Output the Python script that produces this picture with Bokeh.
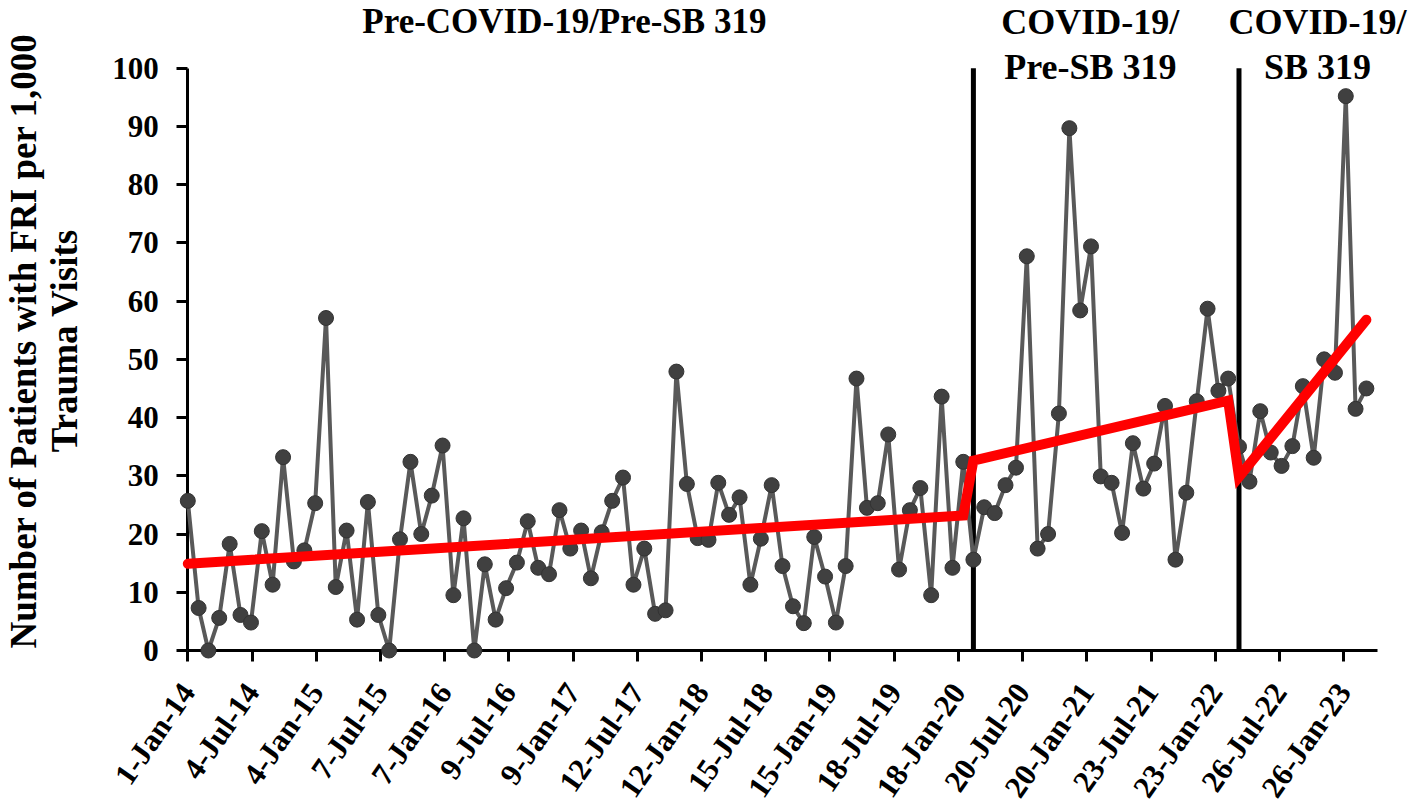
import math
import pandas as pd
from bokeh.plotting import figure
from bokeh.models import Range1d, FixedTicker, ColumnDataSource
from bokeh.core.properties import value
from bokeh.embed import file_html
from bokeh.resources import INLINE

# ---------------- data ----------------
first_month = "2014-01-01"
# monthly rate of patients with FRI per 1,000 trauma visits
pre_covid_pre_sb = [25.7, 7.3, 0.0, 5.6, 18.3, 6.1, 4.8, 20.5, 11.3, 33.2, 15.3, 17.2,
                    25.3, 57.1, 10.9, 20.6, 5.3, 25.5, 6.1, 0.0, 19.1, 32.4, 20.0, 26.6,
                    35.2, 9.5, 22.7, 0.0, 14.8, 5.3, 10.7, 15.1, 22.2, 14.2, 13.1, 24.1,
                    17.5, 20.6, 12.4, 20.3, 25.7, 29.7, 11.3, 17.5, 6.3, 6.9, 47.9, 28.6,
                    19.3, 19.0, 28.8, 23.3, 26.3, 11.3, 19.2, 28.4, 14.5, 7.6, 4.7, 19.5,
                    12.7, 4.8, 14.5, 46.7, 24.5, 25.3, 37.1, 13.9, 24.1, 27.9, 9.5, 43.6,
                    14.2, 32.4]
covid_pre_sb = [15.6, 24.6, 23.6, 28.4, 31.4, 67.7, 17.5, 20.0, 40.7, 89.7,
                58.4, 69.4, 29.9, 28.8, 20.2, 35.6, 27.8, 32.1, 42.0, 15.6, 27.1, 42.8,
                58.7, 44.6, 46.7]
covid_sb = [35.0, 29.0, 41.1, 34.0, 31.7, 35.1, 45.4, 33.1, 50.0,
            47.7, 95.2, 41.5, 45.0]

# segmented-regression fitted line (segment end points)
trend_dates = ["2014-01-01", "2020-02-01", "2020-03-01", "2022-03-01", "2022-04-01", "2023-04-01"]
trend_values = [14.9, 23.2, 32.6, 42.9, 29.8, 56.8]

# interruptions
break_dates = ["2020-03-01", "2022-04-01"]

x_tick_labels = ["1-Jan-14", "4-Jul-14", "4-Jan-15", "7-Jul-15", "7-Jan-16", "9-Jul-16",
                 "9-Jan-17", "12-Jul-17", "12-Jan-18", "15-Jul-18", "15-Jan-19", "18-Jul-19",
                 "18-Jan-20", "20-Jul-20", "20-Jan-21", "23-Jul-21", "23-Jan-22", "26-Jul-22",
                 "26-Jan-23"]
y_ticks = [0, 10, 20, 30, 40, 50, 60, 70, 80, 90, 100]

period_titles = ["Pre-COVID-19/Pre-SB 319", "COVID-19/", "Pre-SB 319", "COVID-19/", "SB 319"]
y_title = ["Number of Patients with FRI per 1,000", "Trauma Visits"]

# ---------------- helpers ----------------
EPOCH = pd.Timestamp("1970-01-01")
DAY_MS = 86400000.0
W, H = 1410, 804


def to_ms(d):
    return float((pd.Timestamp(d) - EPOCH) / pd.Timedelta("1ms"))


def day_offset(n):
    return pd.Timestamp(first_month) + pd.Timedelta(days=n)


values = pre_covid_pre_sb + covid_pre_sb + covid_sb
dates = pd.date_range(first_month, periods=len(values), freq="MS")
src = ColumnDataSource(dict(date=dates, value=values))

tick_ms = [float((t - EPOCH) / pd.Timedelta("1ms"))
           for t in pd.to_datetime(x_tick_labels, format="%d-%b-%y")]

origin = to_ms(first_month)
PX_DAY = 0.349
PX_UNIT = 5.823
X0, Y0 = 187.3, 650.0
x_start = origin - X0 / PX_DAY * DAY_MS
x_end = origin + (W - X0) / PX_DAY * DAY_MS
y_start = -(H - Y0) / PX_UNIT
y_end = Y0 / PX_UNIT
axis_end = origin + 3409 * DAY_MS

FONT = "Liberation Serif"

p = figure(width=W, height=H, x_axis_type="datetime",
           x_range=Range1d(x_start, x_end), y_range=Range1d(y_start, y_end),
           output_backend="svg", toolbar_location=None,
           min_border_left=0, min_border_right=0, min_border_top=0, min_border_bottom=0)
p.outline_line_color = None
p.grid.visible = False
p.background_fill_color = "white"
p.border_fill_color = "white"

# x axis
xa = p.xaxis[0]
xa.ticker = FixedTicker(ticks=tick_ms)
xa.major_label_overrides = {t: lab for t, lab in zip(tick_ms, x_tick_labels)}
xa.fixed_location = 0
xa.bounds = (origin, axis_end)
xa.major_label_orientation = math.radians(55)
xa.major_label_text_font = FONT
xa.major_label_text_font_style = "bold"
xa.major_label_text_font_size = "31px"
xa.major_label_text_color = "black"
xa.major_label_standoff = 25

# y axis
ya = p.yaxis[0]
ya.ticker = FixedTicker(ticks=y_ticks)
ya.fixed_location = origin
ya.bounds = (0, 100)
ya.major_label_text_font = FONT
ya.major_label_text_font_style = "bold"
ya.major_label_text_font_size = "31px"
ya.major_label_text_color = "black"
ya.major_label_standoff = 18

for ax in (xa, ya):
    ax.axis_line_color = "black"
    ax.axis_line_width = 3
    ax.major_tick_line_color = "black"
    ax.major_tick_line_width = 3
    ax.major_tick_out = 11
    ax.major_tick_in = 0
    ax.minor_tick_line_color = None
    ax.level = "underlay"

# interruption lines
bd = pd.to_datetime(break_dates)
p.segment(x0=bd, y0=[0] * len(bd), x1=bd, y1=[100] * len(bd),
          line_color="black", line_width=5)

# observed series
p.line("date", "value", source=src, line_color="#595959", line_width=4)
p.scatter("date", "value", source=src, size=15, fill_color="#404040",
          line_color="#333333", line_width=1)

# fitted trend
p.line(pd.to_datetime(trend_dates), trend_values, line_color="#ff0000", line_width=10,
       line_join="miter", line_cap="round")

# period titles
txt = dict(text_font=value(FONT), text_font_style="bold",
           text_color="black", text_align="center", text_baseline="alphabetic")
p.text(x=[pd.Timestamp("2016-12-15")], y=[108.0], text=[period_titles[0]],
       text_font_size="35px", **txt)
p.text(x=[pd.Timestamp("2021-01-30")] * 2, y=[107.9, 100.2], text=period_titles[1:3],
       text_font_size="36px", **txt)
p.text(x=[pd.Timestamp("2022-11-12")] * 2, y=[107.9, 100.2], text=period_titles[3:5],
       text_font_size="36px", **txt)

# y axis title (two lines, rotated)
p.text(x=[day_offset(-470), day_offset(-353)], y=[53.2, 53.2], text=y_title,
       angle=math.pi / 2, text_font=value(FONT), text_font_style="bold",
       text_font_size="37px", text_color="black", text_align="center",
       text_baseline="alphabetic")

open("out.html", "w").write(file_html(p, INLINE))
